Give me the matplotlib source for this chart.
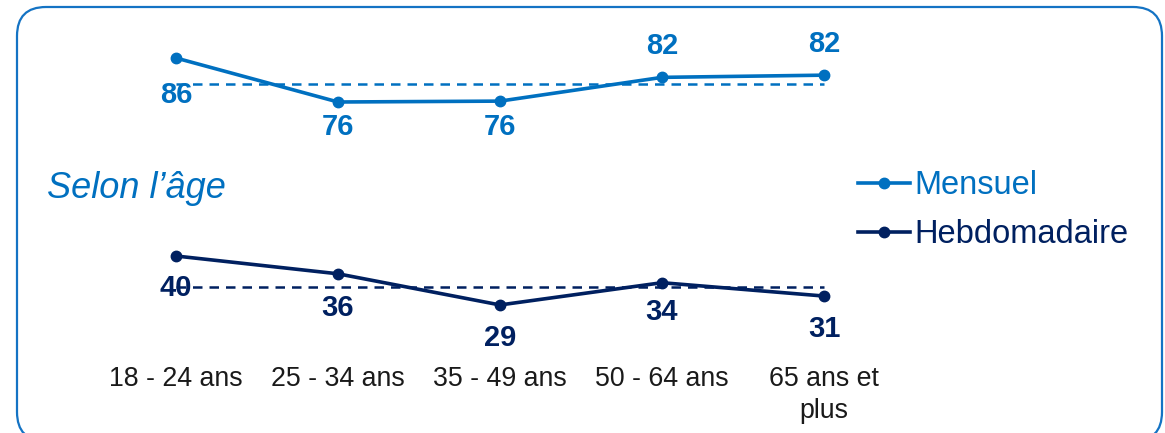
import matplotlib.pyplot as plt
from matplotlib.patches import FancyBboxPatch
from matplotlib.lines import Line2D

# Data
categories = ["18 - 24 ans", "25 - 34 ans", "35 - 49 ans", "50 - 64 ans", "65 ans et\nplus"]
mensuel = [86, 76, 76.2, 81.6, 82.1]
hebdomadaire = [40, 36, 29, 34, 31]
mensuel_moyenne = 80
hebdo_moyenne = 33

# Label offsets (pixels, + = up)
mensuel_offsets = [-37, -25, -26, 31, 31]
hebdo_offsets = [-32, -34, -33, -29, -33]

BLUE = "#0070C0"
NAVY = "#002060"
plt.rcParams['font.family'] = ['Liberation Sans', 'DejaVu Sans']

W, H = 1165, 433
fig = plt.figure(figsize=(W / 100, H / 100), dpi=100)

# rounded frame, drawn in pixel units
bg = fig.add_axes([0, 0, 1, 1], zorder=-1)
bg.set_xlim(0, W)
bg.set_ylim(H, 0)
bg.axis('off')
bg.add_patch(FancyBboxPatch((17, 7), 1145, 434, boxstyle="round,pad=0,rounding_size=29",
                            facecolor='white', edgecolor='#1473C4', linewidth=1.6))

x = list(range(len(categories)))
left, width = 95 / W, 810 / W
ax1 = fig.add_axes([left, (H - 128.4) / H, width, 88 / H])
ax2 = fig.add_axes([left, (H - 322.75) / H, width, 89 / H])
ax1.set_ylim(70, 90)
ax2.set_ylim(25, 45)

def draw(ax, vals, avg, offsets, color):
    ax.plot(x, vals, color=color, lw=2.6, marker='o', ms=7.5, zorder=3)
    ax.plot([x[0], x[-1]], [avg, avg], color=color, lw=1.8, ls=(0, (3.8, 2.8)), zorder=2)
    for xi, v, off in zip(x, vals, offsets):
        ax.annotate(f"{v:.0f}", (xi, v), xytext=(0, off * 0.72), textcoords='offset points',
                    ha='center', va='center', fontsize=21, fontweight='bold', color=color)
    ax.set_xlim(-0.5, 4.5)
    for s in ax.spines.values():
        s.set_visible(False)
    ax.set_yticks([])
    ax.patch.set_alpha(0)

draw(ax1, mensuel, mensuel_moyenne, mensuel_offsets, BLUE)
draw(ax2, hebdomadaire, hebdo_moyenne, hebdo_offsets, NAVY)
ax1.set_xticks([])
ax2.set_xticks(x)
ax2.set_xticklabels(categories, fontsize=19.3, color='#1a1a1a', linespacing=1.25, va='top')
ax2.tick_params(axis='x', length=0, pad=31.5)

fig.text(47 / W, (H - 188) / H, "Selon l\u2019âge", fontsize=26, style='italic', color=BLUE,
         ha='left', va='center')

handles = [Line2D([], [], color=BLUE, lw=2.6, marker='o', ms=7.5),
           Line2D([], [], color=NAVY, lw=2.6, marker='o', ms=7.5)]
fig.legend(handles, ["Mensuel", "Hebdomadaire"], loc='center left',
           bbox_to_anchor=(858 / W, (H - 210) / H), frameon=False, fontsize=23.5,
           labelcolor='linecolor', handlelength=1.6, handletextpad=0.12,
           labelspacing=0.55, borderpad=0, borderaxespad=0)

fig.savefig("out.png", dpi=100)
